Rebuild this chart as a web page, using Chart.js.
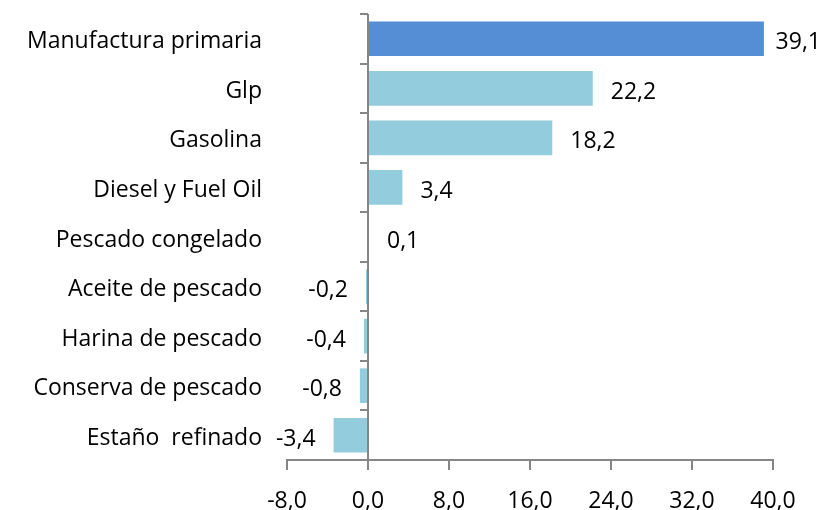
<!DOCTYPE html>
<html>
<head>
<meta charset="utf-8">
<script src="https://cdn.jsdelivr.net/npm/chart.js@4/dist/chart.umd.min.js"></script>
<style>
  html, body { margin: 0; padding: 0; background: #fff; }
  #wrap { width: 825px; height: 510px; }
</style>
</head>
<body>
<div id="wrap"><canvas id="grafico" width="825" height="510"></canvas></div>
<script>
const categorias = ["Manufactura primaria", "Glp", "Gasolina", "Diesel y Fuel Oil", "Pescado congelado", "Aceite de pescado", "Harina de pescado", "Conserva de pescado", "Estaño  refinado"];
const valores = [39.1, 22.2, 18.2, 3.4, 0.1, -0.2, -0.4, -0.8, -3.4];
const coresBarras = ["#558ED5", "#93CDDD", "#93CDDD", "#93CDDD", "#93CDDD", "#93CDDD", "#93CDDD", "#93CDDD", "#93CDDD"];
const eixoMin = -8;
const eixoMax = 40;
const eixoPasso = 8;

const FONTE = "'Open Sans', sans-serif";
const COR_EIXO = "#868686";

function formatarValor(v) {
  return v.toFixed(1).replace(".", ",");
}

// linha vertical no zero + marcas entre categorias
const eixoZeroPlugin = {
  id: "eixoZero",
  afterDatasetsDraw(chart) {
    const { ctx, chartArea, scales } = chart;
    const x0 = scales.x.getPixelForValue(0);
    ctx.save();
    ctx.strokeStyle = COR_EIXO;
    ctx.lineWidth = 2;
    ctx.beginPath();
    ctx.moveTo(x0, chartArea.top);
    ctx.lineTo(x0, chartArea.bottom);
    for (let i = 0; i <= categorias.length; i++) {
      const yy = Math.round(scales.y.getPixelForValue(i - 0.5));
      ctx.moveTo(x0 - 8, yy);
      ctx.lineTo(x0, yy);
    }
    ctx.stroke();
    ctx.restore();
  }
};

const rotulosPlugin = {
  id: "rotulos",
  afterDatasetsDraw(chart) {
    const { ctx } = chart;
    const meta = chart.getDatasetMeta(0);
    ctx.save();
    ctx.font = "23px " + FONTE;
    ctx.fillStyle = "#000";
    ctx.textBaseline = "middle";
    meta.data.forEach((barra, i) => {
      const v = valores[i];
      const txt = formatarValor(v);
      const y = barra.y + 4;
      if (v >= 0) {
        let x = barra.x + 18;
        const w = ctx.measureText(txt).width;
        if (x + w > 821) x = 821 - w;
        ctx.textAlign = "left";
        ctx.fillText(txt, x, y);
      } else {
        ctx.textAlign = "right";
        ctx.fillText(txt, barra.x - 18, y);
      }
    });
    ctx.restore();
  }
};

new Chart(document.getElementById("grafico"), {
  type: "bar",
  data: {
    labels: categorias,
    datasets: [{
      data: valores,
      backgroundColor: coresBarras,
      borderWidth: 0,
      barPercentage: 0.7,
      categoryPercentage: 1
    }]
  },
  options: {
    indexAxis: "y",
    responsive: false,
    animation: false,
    layout: { padding: { top: 14, right: 52, bottom: 0, left: 0 } },
    plugins: { legend: { display: false }, tooltip: { enabled: false } },
    scales: {
      x: {
        min: eixoMin,
        max: eixoMax,
        afterFit: s => { s.height = 50; },
        ticks: {
          stepSize: eixoPasso,
          color: "#000",
          font: { family: FONTE, size: 23 },
          padding: 18,
          callback: v => formatarValor(v)
        },
        grid: { drawOnChartArea: false, color: COR_EIXO, lineWidth: 2, tickLength: 10 },
        border: { color: COR_EIXO, width: 2 }
      },
      y: {
        afterFit: s => { s.width = 287; s.paddingTop = 0; s.paddingBottom = 0; },
        ticks: {
          color: "#000",
          font: { family: FONTE, size: 23 },
          padding: 25,
          labelOffset: 3
        },
        grid: { display: false, drawTicks: false },
        border: { display: false }
      }
    }
  },
  plugins: [eixoZeroPlugin, rotulosPlugin]
});
</script>
</body>
</html>
